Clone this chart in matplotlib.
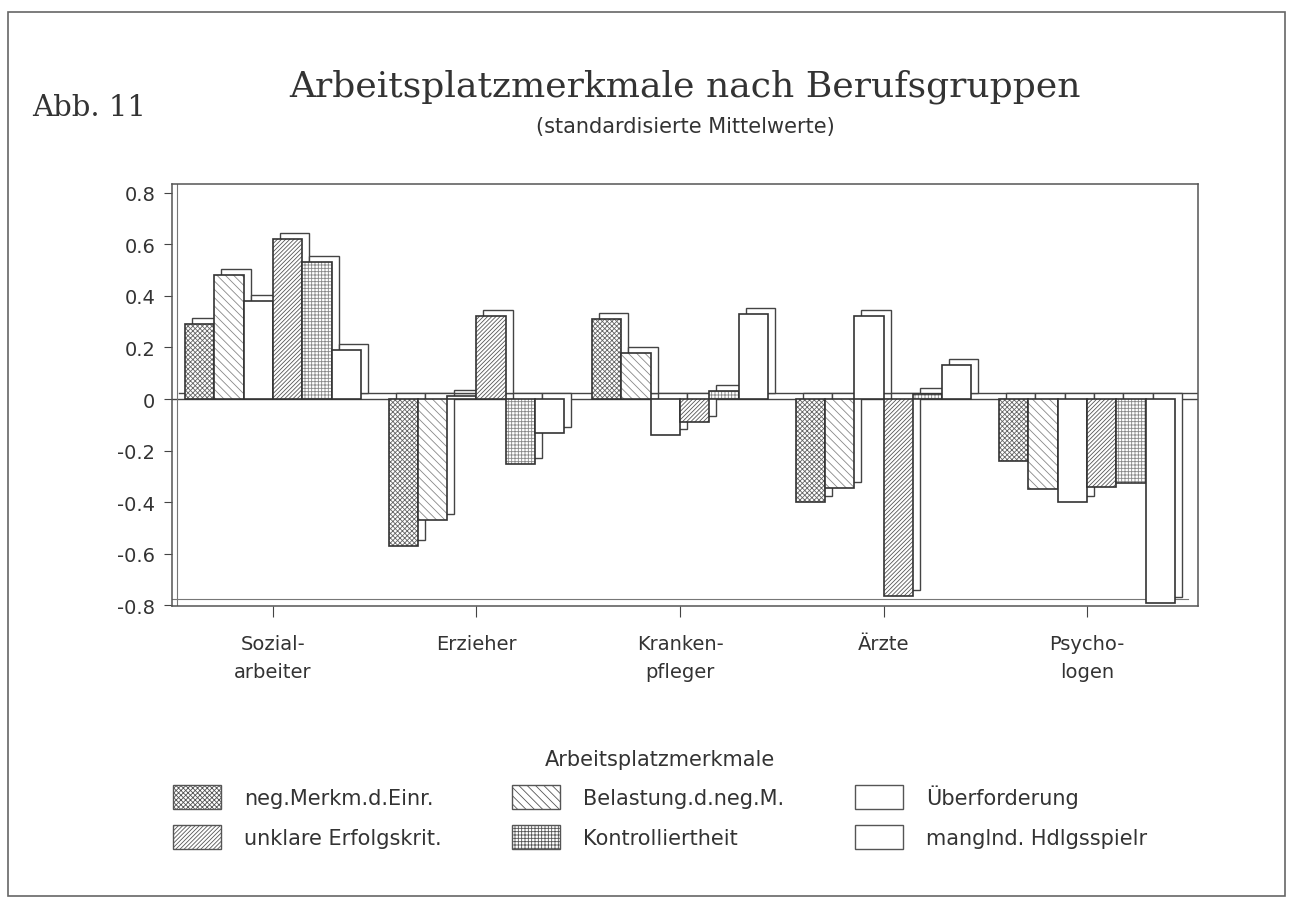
import numpy as np
import matplotlib
matplotlib.use('Agg')
import matplotlib.pyplot as plt
from matplotlib import transforms
from matplotlib.patches import Rectangle, Patch

# data
groups = ['Sozial-\narbeiter', 'Erzieher', 'Kranken-\npfleger', 'Ärzte', 'Psycho-\nlogen']
series = ['neg.Merkm.d.Einr.', 'Belastung.d.neg.M.', 'Überforderung',
          'unklare Erfolgskrit.', 'Kontrolliertheit', 'manglnd. Hdlgsspielr']
neg_merkm = [0.29, -0.57, 0.31, -0.40, -0.24]
belastung = [0.48, -0.47, 0.18, -0.345, -0.35]
ueberford = [0.38, 0.01, -0.14, 0.32, -0.40]
unklare = [0.62, 0.32, -0.09, -0.765, -0.34]
kontroll = [0.53, -0.25, 0.03, 0.02, -0.325]
mangl = [0.19, -0.13, 0.33, 0.13, -0.79]
yticks = [0.8, 0.6, 0.4, 0.2, 0, -0.2, -0.4, -0.6, -0.8]
ytick_labels = ['0.8', '0.6', '0.4', '0.2', '0', '-0.2', '-0.4', '-0.6', '-0.8']

values = [neg_merkm, belastung, ueberford, unklare, kontroll, mangl]
hatches = ['xxxxxxx', '\\\\\\\\', '', '////////', '+++++', '']
hatch_cols = ['#666666', '#888888', 'none', '#555555', '#888888', 'none']

plt.rcParams['hatch.linewidth'] = 0.6

fig = plt.figure(figsize=(12.92, 9.04), dpi=100)
W, H = 1292, 904
ax = fig.add_axes([172 / W, 1 - 607 / H, (1198 - 172) / W, (607 - 185) / H])
x0, x1 = -0.496, 4.545
ax.set_xlim(x0, x1)
ax.set_ylim(-0.802, 0.833)

x = np.arange(len(groups))
bw = 0.144
depth = transforms.offset_copy(ax.transData, fig=fig, x=7, y=6, units='dots')

# zero floor lines (front and back)
ax.plot([x0, x1 - 0.04], [0, 0], color='#444444', lw=1.0, transform=depth, zorder=1)
ax.plot([x0, x1], [0, 0], color='#444444', lw=1.0, zorder=1)

for i, vals in enumerate(values):
    pos = x + (i - 2.5) * bw
    # depth box behind the front face
    ax.bar(pos, vals, bw, color='white', edgecolor='#444444', lw=1.0,
           transform=depth, zorder=2 + i * 0.1)
    # hatched front face
    ax.bar(pos, vals, bw, color='white', edgecolor=hatch_cols[i], lw=0,
           hatch=hatches[i], zorder=3 + i * 0.1)
    ax.bar(pos, vals, bw, color='none', edgecolor='#333333', lw=1.2,
           zorder=3.05 + i * 0.1)

ax.set_yticks(yticks)
ax.set_yticklabels(ytick_labels)
ax.set_xticks(x)
ax.set_xticklabels(groups, linespacing=1.6)
ax.tick_params(axis='y', direction='out', length=6, labelsize=14, pad=6,
               color='#444444', labelcolor='#333333')
ax.tick_params(axis='x', direction='out', length=8, labelsize=14, pad=12,
               color='#444444', labelcolor='#333333')
for s in ax.spines.values():
    s.set_color('#555555')
    s.set_linewidth(1.1)

# inner lines of back wall
ax.plot([0.005, 0.005], [0.0, 1.0], transform=ax.transAxes, color='#777777', lw=0.8)
ax.plot([0.0, 0.99], [0.016, 0.016], transform=ax.transAxes, color='#777777', lw=0.8)

# titles
fig.text(32 / W, 1 - 116 / H, 'Abb. 11', family='DejaVu Serif', fontsize=21,
         color='#333333', va='baseline')
fig.text(685 / W, 1 - 97 / H, 'Arbeitsplatzmerkmale nach Berufsgruppen',
         family='DejaVu Serif', fontsize=26, color='#333333', ha='center', va='baseline')
fig.text(685 / W, 1 - 133 / H, '(standardisierte Mittelwerte)', fontsize=15,
         color='#333333', ha='center', va='baseline')

# legend: column-major order for 3 columns
order = [0, 3, 1, 4, 2, 5]
handles = [Patch(facecolor='white', edgecolor='#555555', hatch=hatches[k], lw=1.0)
           for k in order]
leg = fig.legend(handles, [series[k] for k in order], ncol=3,
                 loc='center', bbox_to_anchor=(660 / W, 1 - 800 / H),
                 frameon=False, fontsize=15, handlelength=2.3, handleheight=1.4,
                 handletextpad=1.1, columnspacing=3.4, labelspacing=0.75,
                 title='Arbeitsplatzmerkmale', title_fontsize=15)
for t in leg.get_texts():
    t.set_color('#333333')
leg.get_title().set_color('#333333')

# outer frame
fig.add_artist(Rectangle((8 / W, 1 - 897 / H), (1285 - 8) / W, (897 - 13) / H,
                         transform=fig.transFigure, fill=False,
                         edgecolor='#666666', lw=1.2))

fig.savefig('out.png', dpi=100)
